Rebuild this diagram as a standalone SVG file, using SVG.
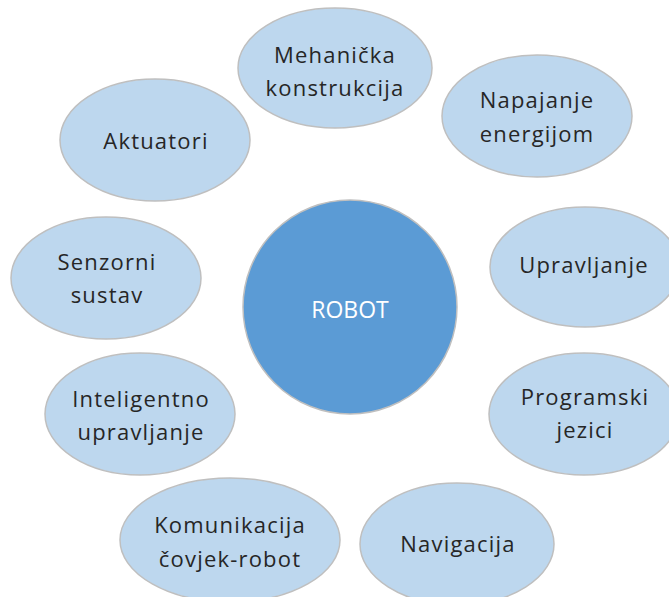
<svg xmlns="http://www.w3.org/2000/svg" width="669" height="597" viewBox="0 0 669 597">
<style>
.n{fill:#BDD7EE;stroke:#BFBFBF;stroke-width:1.5}
.c{fill:#5B9BD5;stroke:#BFBFBF;stroke-width:1.5}
.t{font-family:"Open Sans","Noto Sans","Liberation Sans",sans-serif;font-size:22px;fill:#262626;text-anchor:middle;letter-spacing:1.2px}
.w{fill:#FFFFFF;font-size:23px;letter-spacing:0}
</style>
<rect width="669" height="597" fill="#FFFFFF"/>
<g id="connectors"/>
<g id="robot"><circle class="c" cx="350" cy="307" r="107"/><text class="t w" x="350" y="318">ROBOT</text></g>
<g id="mehanicka"><ellipse class="n" cx="335" cy="68" rx="97" ry="60"/><text class="t" x="335" y="63">Mehanička</text><text class="t" x="335" y="96">konstrukcija</text></g>
<g id="napajanje"><ellipse class="n" cx="537" cy="116" rx="95" ry="61"/><text class="t" x="537" y="108">Napajanje</text><text class="t" x="537" y="142">energijom</text></g>
<g id="aktuatori"><ellipse class="n" cx="155" cy="140" rx="95" ry="61"/><text class="t" x="156" y="149">Aktuatori</text></g>
<g id="senzorni"><ellipse class="n" cx="106" cy="278" rx="95" ry="61"/><text class="t" x="107" y="270">Senzorni</text><text class="t" x="107" y="303">sustav</text></g>
<g id="upravljanje"><ellipse class="n" cx="585" cy="267" rx="95" ry="60"/><text class="t" x="584" y="273">Upravljanje</text></g>
<g id="inteligentno"><ellipse class="n" cx="140" cy="414" rx="95" ry="61"/><text class="t" x="141" y="407">Inteligentno</text><text class="t" x="141" y="440">upravljanje</text></g>
<g id="programski"><ellipse class="n" cx="584" cy="414" rx="95" ry="61"/><text class="t" x="585" y="405">Programski</text><text class="t" x="585" y="438">jezici</text></g>
<g id="komunikacija"><ellipse class="n" cx="230" cy="540" rx="110" ry="62"/><text class="t" x="230" y="533">Komunikacija</text><text class="t" x="230" y="567">čovjek-robot</text></g>
<g id="navigacija"><ellipse class="n" cx="457" cy="544" rx="97" ry="61"/><text class="t" x="458" y="552">Navigacija</text></g>
</svg>
